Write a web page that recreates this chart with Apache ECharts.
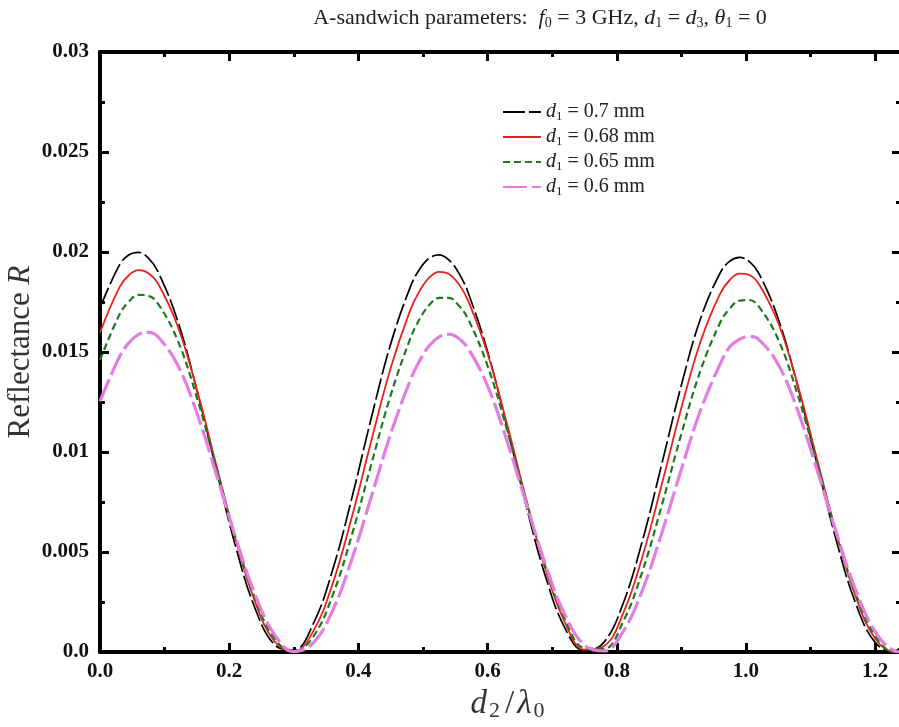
<!DOCTYPE html>
<html>
<head>
<meta charset="utf-8">
<script src="https://cdn.jsdelivr.net/npm/echarts@6/dist/echarts.min.js"></script>
<style>
html,body{margin:0;padding:0;background:#fff;}
#c{width:899px;height:727px;}
</style>
</head>
<body>
<div id="c"></div>
<script>
// d2/lambda0 sample positions
const xs = [0,0.03,0.045,0.06,0.075,0.09,0.12,0.15,0.18,0.21,0.24,0.27,0.30,0.33,0.36,0.39,0.42,0.45,0.48,0.495,0.51,0.525,0.54,0.555,0.57,0.60,0.63,0.66,0.69,0.72,0.75,0.78,0.81,0.84,0.87,0.90,0.93,0.96,0.975,0.99,1.005,1.02,1.05,1.08,1.11,1.14,1.17,1.20,1.23,1.24];
// Reflectance R for each d1
const r070 = [0.01720,0.01934,0.01986,0.01998,0.01969,0.01900,0.01658,0.01309,0.00912,0.00527,0.00219,0.00037,0.00009,0.00140,0.00409,0.00771,0.01171,0.01540,0.01822,0.01915,0.01970,0.01986,0.01961,0.01897,0.01796,0.01502,0.01126,0.00728,0.00374,0.00118,0.00004,0.00048,0.00244,0.00560,0.00944,0.01335,0.01670,0.01895,0.01954,0.01973,0.01953,0.01893,0.01666,0.01330,0.00940,0.00556,0.00242,0.00048,0.00004,0.00025];
const r068 = [0.01597,0.01823,0.01885,0.01909,0.01894,0.01841,0.01631,0.01312,0.00935,0.00561,0.00252,0.00054,0.00002,0.00103,0.00340,0.00676,0.01056,0.01420,0.01707,0.01807,0.01873,0.01901,0.01890,0.01841,0.01756,0.01493,0.01141,0.00760,0.00409,0.00146,0.00012,0.00029,0.00194,0.00480,0.00842,0.01221,0.01555,0.01792,0.01860,0.01892,0.01885,0.01840,0.01645,0.01336,0.00965,0.00593,0.00276,0.00067,0.00000,0.00012];
const r065 = [0.01459,0.01686,0.01753,0.01786,0.01781,0.01741,0.01560,0.01272,0.00924,0.00570,0.00269,0.00068,0.00000,0.00076,0.00282,0.00586,0.00939,0.01284,0.01564,0.01666,0.01736,0.01771,0.01771,0.01734,0.01664,0.01431,0.01112,0.00756,0.00422,0.00163,0.00020,0.00016,0.00153,0.00406,0.00737,0.01091,0.01411,0.01646,0.01718,0.01757,0.01760,0.01727,0.01562,0.01287,0.00946,0.00595,0.00291,0.00081,0.00000,0.00005];
const r060 = [0.01253,0.01475,0.01547,0.01588,0.01598,0.01575,0.01436,0.01195,0.00890,0.00571,0.00288,0.00088,0.00002,0.00044,0.00207,0.00465,0.00776,0.01090,0.01356,0.01457,0.01532,0.01576,0.01589,0.01569,0.01517,0.01330,0.01056,0.00741,0.00433,0.00184,0.00034,0.00005,0.00103,0.00312,0.00598,0.00914,0.01211,0.01439,0.01526,0.01563,0.01578,0.01562,0.01437,0.01208,0.00911,0.00595,0.00309,0.00102,0.00005,0.00000];
const d1Values = ['0.7','0.68','0.65','0.6'];
const xTicks = ['0.0','0.2','0.4','0.6','0.8','1.0','1.2'];
const yTicks = ['0.0','0.005','0.01','0.015','0.02','0.025','0.03'];

const SERIF = 'Liberation Serif';
const pairs = arr => xs.map((x, i) => [x, arr[i]]);
const styles = [
  {color: '#000000', width: 1.7, type: [22, 4]},
  {color: '#e8231f', width: 1.8, type: 'solid'},
  {color: '#1f7a1f', width: 2.2, type: [7, 4]},
  {color: '#e27ee2', width: 3.2, type: [24, 5]}
];
const datas = [r070, r068, r065, r060];
const names = d1Values.map(v => 'd1 = ' + v + ' mm');

const axisLineStyle = {color: '#000', width: 4};
const xCommon = {
  type: 'value', min: 0, max: 1.24, interval: 0.2,
  axisLine: {show: true, onZero: false, lineStyle: axisLineStyle},
  axisTick: {show: true, inside: true, length: 9, lineStyle: {color: '#000', width: 3}},
  minorTick: {show: true, splitNumber: 2, length: 5, lineStyle: {color: '#000', width: 3}},
  splitLine: {show: false}, minorSplitLine: {show: false}
};
const yCommon = {
  type: 'value', min: 0, max: 0.03, interval: 0.005,
  axisLine: {show: true, onZero: false, lineStyle: axisLineStyle},
  axisTick: {show: true, inside: true, length: 9, lineStyle: {color: '#000', width: 3}},
  minorTick: {show: true, splitNumber: 2, length: 5, lineStyle: {color: '#000', width: 3}},
  splitLine: {show: false}, minorSplitLine: {show: false}
};

const chart = echarts.init(document.getElementById('c'), null, {renderer: 'canvas'});
chart.setOption({
  backgroundColor: '#fff',
  animation: false,
  title: {
    text: '{n|A-sandwich parameters:  }{i|f}{s|0}{n| = 3 GHz, }{i|d}{s|1}{n| = }{i|d}{s|3}{n|, }{i|θ}{s|1}{n| = 0}',
    left: 535, textAlign: 'center', top: 2,
    textStyle: {rich: {
      n: {fontFamily: SERIF, fontSize: 22, fontWeight: 'normal', color: '#222'},
      i: {fontFamily: SERIF, fontSize: 22, fontWeight: 'normal', fontStyle: 'italic', color: '#222'},
      s: {fontFamily: SERIF, fontSize: 14, fontWeight: 'normal', color: '#222', padding: [9, 0, 0, 0]}
    }}
  },
  legend: {
    orient: 'vertical', left: 497, top: 97, itemGap: 4,
    itemWidth: 38, itemHeight: 20,
    data: names,
    itemStyle: {opacity: 0},
    formatter: name => {
      const v = name.replace('d1 = ', '').replace(' mm', '');
      return '{i|d}{s|1}{n| = ' + v + ' mm}';
    },
    textStyle: {rich: {
      n: {fontFamily: SERIF, fontSize: 20, color: '#222'},
      i: {fontFamily: SERIF, fontSize: 20, fontStyle: 'italic', color: '#222'},
      s: {fontFamily: SERIF, fontSize: 13, color: '#222', padding: [9, 0, 0, 0]}
    }}
  },
  grid: {left: 100, top: 52, width: 801, height: 600, containLabel: false, outerBoundsMode: 'none'},
  xAxis: [
    Object.assign({}, xCommon, {
      position: 'bottom',
      name: '{i|d}{s|2}{n|/}{i|λ}{s|0}', nameLocation: 'middle', nameGap: 34,
      nameMoveOverlap: false,
      nameTextStyle: {padding: [0, 0, 0, 16], rich: {
        n: {fontFamily: SERIF, fontSize: 33, color: '#333', padding: [0, 3, 0, 3]},
        i: {fontFamily: SERIF, fontSize: 33, fontStyle: 'italic', color: '#333'},
        s: {fontFamily: SERIF, fontSize: 22, color: '#333', padding: [14, 2, 0, 2]}
      }},
      axisLabel: {
        show: true, margin: 9, fontFamily: SERIF, fontWeight: 'bold', fontSize: 21, color: '#111',
        formatter: v => {
          const k = Math.round(v / 0.2);
          return Math.abs(v - k * 0.2) < 1e-6 && k < xTicks.length ? xTicks[k] : '';
        }
      }
    }),
    Object.assign({}, xCommon, {position: 'top', axisLabel: {show: false}})
  ],
  yAxis: [
    Object.assign({}, yCommon, {
      position: 'left',
      name: '{n|Reflectance }{i|R}', nameLocation: 'middle', nameGap: 64, nameRotate: 90,
      nameMoveOverlap: false,
      nameTextStyle: {rich: {
        n: {fontFamily: SERIF, fontSize: 31, color: '#333'},
        i: {fontFamily: SERIF, fontSize: 31, fontStyle: 'italic', color: '#333'}
      }},
      axisLabel: {
        show: true, margin: 11, fontFamily: SERIF, fontWeight: 'bold', fontSize: 21, color: '#111',
        formatter: v => {
          const k = Math.round(v / 0.005);
          return Math.abs(v - k * 0.005) < 1e-9 && yTicks[k] !== undefined ? yTicks[k] : '';
        }
      }
    }),
    Object.assign({}, yCommon, {position: 'right', axisLabel: {show: false}})
  ],
  series: datas.map((d, i) => ({
    name: names[i],
    type: 'line',
    xAxisIndex: 0, yAxisIndex: 0,
    data: pairs(d),
    smooth: 0.4,
    symbol: 'none',
    showSymbol: false,
    lineStyle: styles[i],
    itemStyle: {color: styles[i].color},
    z: 2 + i,
    clip: true
  }))
});
</script>
</body>
</html>
